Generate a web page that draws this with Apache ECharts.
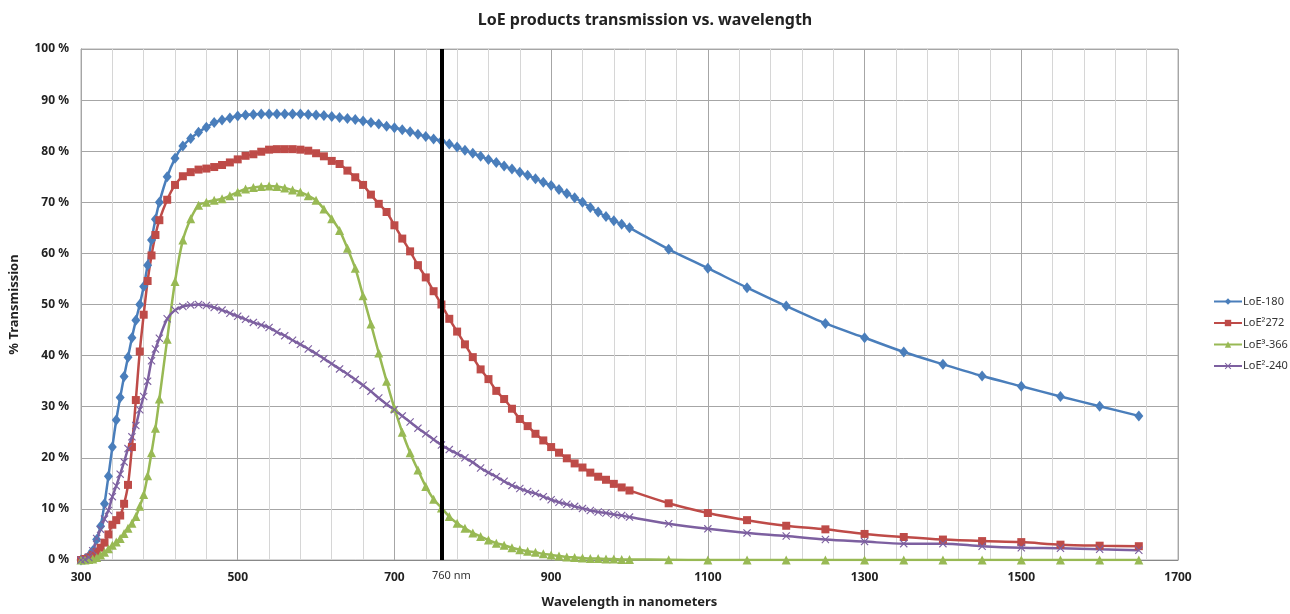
<!DOCTYPE html>
<html>
<head>
<meta charset="utf-8">
<script src="https://cdn.jsdelivr.net/npm/echarts@6/dist/echarts.min.js"></script>
<style>
  html, body { margin: 0; padding: 0; background: #fff; }
  #ec { width: 1290px; height: 614px; }
</style>
</head>
<body>
<div id="ec"></div>
<script>
// wavelengths in nm: 5 nm steps to 400, 10 nm steps to 1000, then 50 nm
var wavelength = [
  300, 305, 310, 315, 320, 325, 330, 335, 340, 345, 350, 355, 360, 365, 370, 375, 380, 385, 390, 395, 400,
  410, 420, 430, 440, 450, 460, 470, 480, 490, 500,
  510, 520, 530, 540, 550, 560, 570, 580, 590, 600,
  610, 620, 630, 640, 650, 660, 670, 680, 690, 700,
  710, 720, 730, 740, 750, 760, 770, 780, 790, 800,
  810, 820, 830, 840, 850, 860, 870, 880, 890, 900,
  910, 920, 930, 940, 950, 960, 970, 980, 990, 1000,
  1050, 1100, 1150, 1200, 1250, 1300, 1350, 1400, 1450, 1500, 1550, 1600, 1650
];

var loe180 = [
  0, 0.2, 0.8, 1.8, 4, 6.6, 11, 16.4, 22.1, 27.4, 31.8, 35.9, 39.7, 43.5, 46.9, 50, 53.5, 57.7, 62.6, 66.7, 70,
  75, 78.6, 81, 82.5, 83.7, 84.7, 85.6, 86.1, 86.5, 86.9,
  87.1, 87.2, 87.3, 87.3, 87.3, 87.3, 87.3, 87.3, 87.2, 87.1,
  87.0, 86.8, 86.6, 86.4, 86.2, 85.9, 85.6, 85.3, 84.9, 84.6,
  84.2, 83.8, 83.3, 82.9, 82.4, 82.0, 81.4, 80.8, 80.2, 79.6,
  79.0, 78.4, 77.8, 77.1, 76.5, 75.9, 75.3, 74.6, 73.9, 73.3,
  72.5, 71.7, 70.9, 70.0, 69.0, 68.1, 67.2, 66.4, 65.7, 65.0,
  60.8, 57.1, 53.3, 49.7, 46.3, 43.5, 40.7, 38.3, 36.0, 34.0, 32.0, 30.1, 28.2
];

var loe272 = [
  0, 0.2, 0.5, 1, 1.6, 2.4, 3.4, 5, 6.9, 7.8, 8.7, 11, 14.7, 22.1, 31.3, 40.8, 48, 54.6, 59.6, 63.6, 66.5,
  70.5, 73.4, 75.1, 75.9, 76.4, 76.6, 76.9, 77.3, 77.8, 78.4,
  79.1, 79.4, 79.9, 80.3, 80.4, 80.4, 80.4, 80.3, 80.1, 79.6,
  79.0, 78.1, 77.5, 76.2, 74.9, 73.4, 71.5, 69.7, 68.1, 65.5,
  62.9, 60.4, 57.7, 55.3, 52.6, 50.0, 47.2, 44.7, 42.2, 39.7,
  37.3, 35.4, 33.1, 31.5, 29.6, 27.6, 26.2, 24.7, 23.4, 22.1,
  21.0, 19.9, 18.9, 18.1, 17.1, 16.3, 15.7, 14.9, 14.2, 13.6,
  11.1, 9.2, 7.8, 6.7, 6.0, 5.1, 4.5, 4.0, 3.7, 3.5, 3.0, 2.8, 2.7
];

var loe366 = [
  0, 0, 0.1, 0.2, 0.5, 1, 1.5, 2.2, 2.9, 3.5, 4.2, 5.2, 6.2, 7.2, 8.5, 10.5, 12.8, 16.5, 21, 25.8, 31.5,
  43.2, 54.5, 62.6, 66.8, 69.4, 70.0, 70.4, 70.7, 71.3, 72.0,
  72.6, 72.9, 73.1, 73.2, 73.1, 72.8, 72.4, 72.0, 71.3, 70.4,
  68.7, 66.8, 64.5, 61.0, 57.1, 51.7, 46.2, 40.5, 35.0, 29.7,
  25.0, 21.0, 17.6, 14.4, 11.9, 10.2, 8.5, 7.2, 6.2, 5.3,
  4.6, 3.9, 3.3, 2.9, 2.4, 2.0, 1.7, 1.5, 1.2, 1.0,
  0.8, 0.6, 0.5, 0.4, 0.3, 0.3, 0.2, 0.2, 0.1, 0.1,
  0.05, 0, 0, 0, 0, 0, 0, 0, 0, 0, 0, 0, 0
];

var loe240 = [
  0, 0.1, 0.5, 1.8, 4.2, 6, 8, 9.7, 12.4, 14.5, 16.8, 19.2, 21.8, 24.1, 26.3, 29.4, 32, 35, 39, 41.3, 43.4,
  47.2, 48.9, 49.6, 49.9, 50, 49.8, 49.4, 48.9, 48.3, 47.7,
  47.1, 46.5, 46.0, 45.5, 44.6, 43.9, 43.0, 42.2, 41.3, 40.4,
  39.4, 38.4, 37.4, 36.4, 35.3, 34.2, 33.0, 31.7, 30.5, 29.4,
  28.2, 27.0, 25.8, 24.7, 23.6, 22.5, 21.6, 20.8, 20.0, 19.1,
  18.0, 17.1, 16.3, 15.4, 14.6, 14.0, 13.4, 13.0, 12.4, 11.8,
  11.3, 10.9, 10.5, 10.1, 9.7, 9.4, 9.2, 8.9, 8.7, 8.4,
  7.1, 6.1, 5.3, 4.7, 4.0, 3.6, 3.2, 3.2, 2.7, 2.4, 2.3, 2.1, 1.9
];

var seriesNames = ['LoE-180', 'LoE²272', 'LoE³-366', 'LoE²-240'];
var markerLine = 760;

function pairs(vals) {
  return wavelength.map(function (w, i) { return [w, vals[i]]; });
}

var crossSymbol = 'path://M0,1L1,0L5,4L9,0L10,1L6,5L10,9L9,10L5,6L1,10L0,9L4,5Z';
var font = '"Noto Sans", "DejaVu Sans", sans-serif';

var myChart = echarts.init(document.getElementById('ec'));

function line(name, data, color, symbol, size) {
  return {
    name: name,
    type: 'line',
    data: pairs(data),
    smooth: 0.3,
    symbol: symbol,
    symbolSize: size,
    lineStyle: { color: color, width: 2.5 },
    itemStyle: { color: color },
    emphasis: { disabled: true },
    z: 3
  };
}

var s1 = line(seriesNames[0], loe180, '#4a7ebb', 'diamond', [9, 11]);
s1.markLine = {
  silent: true,
  symbol: ['none', 'none'],
  lineStyle: { color: '#000', width: 4, type: 'solid' },
  label: {
    show: true,
    position: 'start',
    formatter: markerLine + ' nm',
    color: '#333',
    fontSize: 11,
    fontFamily: font,
    distance: 10,
    offset: [10, 0]
  },
  data: [{ xAxis: markerLine }],
  z: 5
};

myChart.setOption({
  backgroundColor: '#fff',
  animation: false,
  textStyle: { fontFamily: font },
  title: {
    text: 'LoE products transmission vs. wavelength',
    left: 'center',
    top: 7,
    textStyle: { fontSize: 16, fontWeight: 'bold', color: '#222', fontFamily: font }
  },
  legend: {
    orient: 'vertical',
    left: 1208,
    top: 291,
    itemWidth: 28,
    itemHeight: 8,
    itemGap: 10.5,
    textStyle: { fontSize: 11, color: '#333', fontFamily: font, padding: [0, 0, 0, -4] },
    data: seriesNames
  },
  grid: {
    left: 80,
    right: 112,
    top: 49,
    bottom: 50,
    show: true,
    borderColor: '#b0b0b0',
    borderWidth: 1
  },
  xAxis: [
    {
      type: 'value',
      min: 300,
      max: 1700,
      interval: 200,
      name: 'Wavelength in nanometers',
      nameLocation: 'middle',
      nameGap: 36,
      nameTextStyle: { fontSize: 13, fontWeight: 'bold', color: '#222' },
      axisLine: { show: true, lineStyle: { color: '#888' } },
      axisTick: { show: false },
      axisLabel: { fontSize: 12, fontWeight: 'bold', color: '#222', margin: 12,
        formatter: function (v) { return String(v); } },
      splitLine: { show: true, lineStyle: { color: '#a6a6a6', width: 1 } },
      z: 2
    },
    {
      // light minor grid every 40 nm
      type: 'value',
      min: 300,
      max: 1700,
      interval: 40,
      position: 'bottom',
      axisLine: { show: false },
      axisTick: { show: false },
      axisLabel: { show: false },
      splitLine: { show: true, lineStyle: { color: '#d6d6d6', width: 1 } },
      z: 1
    }
  ],
  yAxis: {
    type: 'value',
    min: 0,
    max: 100,
    interval: 10,
    name: '% Transmission',
    nameLocation: 'middle',
    nameGap: 60,
    nameTextStyle: { fontSize: 13, fontWeight: 'bold', color: '#222' },
    axisLine: { show: true, lineStyle: { color: '#888' } },
    axisTick: { show: false },
    axisLabel: { formatter: '{value} %', fontSize: 12, fontWeight: 'bold', color: '#222', margin: 12 },
    splitLine: { show: true, lineStyle: { color: '#a6a6a6', width: 1 } }
  },
  series: [
    s1,
    line(seriesNames[1], loe272, '#be4b48', 'rect', 8),
    line(seriesNames[2], loe366, '#98b954', 'triangle', 9),
    line(seriesNames[3], loe240, '#7d60a0', crossSymbol, 8)
  ]
});
</script>
</body>
</html>
